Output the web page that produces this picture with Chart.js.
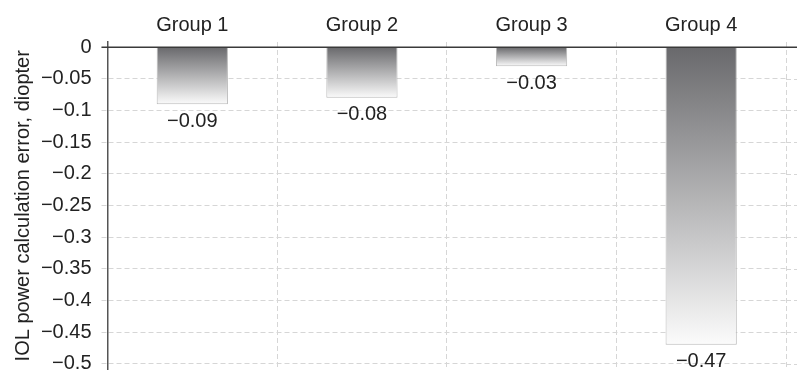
<!DOCTYPE html>
<html>
<head>
<meta charset="utf-8">
<script src="https://cdn.jsdelivr.net/npm/chart.js@4/dist/chart.umd.min.js"></script>
<style>
  html, body { margin: 0; padding: 0; background: #fff; overflow: hidden; }
  #wrap { width: 797px; height: 370px; position: relative; }
</style>
</head>
<body>
<div id="wrap"><canvas id="c"></canvas></div>
<script>
// Mean IOL power calculation error per group (diopters)
const groups = ['Group 1', 'Group 2', 'Group 3', 'Group 4'];
const meanError = [-0.09, -0.08, -0.03, -0.47];
const yAxisTitle = 'IOL power calculation error, diopter';

const FONT = "'Liberation Sans', Arial, Helvetica, sans-serif";
const TEXT = '#222';
const GRID = '#d6d6d6';
const DASH = [5, 3];

const fmt = v => {
  const r = Math.round(v * 100) / 100;
  if (Math.abs(r) < 1e-9) return '0';
  return String(r).replace('-', '\u2212');
};

// Vertical gradient running from the zero line to the end of each bar
function barGradient(ctx) {
  const chart = ctx.chart;
  const y = chart.scales.y;
  if (!chart.chartArea || !y || ctx.raw === undefined) return '#999';
  const y0 = y.getPixelForValue(0);
  const y1 = y.getPixelForValue(ctx.raw);
  if (!isFinite(y0) || !isFinite(y1) || y0 === y1) return '#999';
  const g = chart.ctx.createLinearGradient(0, y0, 0, y1);
  g.addColorStop(0, '#69696c');
  g.addColorStop(1, '#fbfbfb');
  return g;
}

// Zero line, right-hand grid extension and value labels
const decorations = {
  id: 'decorations',
  afterDatasetsDraw(chart) {
    const { ctx, chartArea } = chart;
    const y = chart.scales.y;
    ctx.save();
    // extend the horizontal grid to the right edge
    ctx.strokeStyle = GRID;
    ctx.lineWidth = 1;
    ctx.setLineDash(DASH);
    y.ticks.forEach(t => {
      if (Math.abs(t.value) < 1e-9) return;
      const py = Math.round(y.getPixelForValue(t.value)) + 0.5;
      ctx.beginPath();
      ctx.moveTo(chartArea.right, py);
      ctx.lineTo(chart.width, py);
      ctx.stroke();
    });
    // solid zero line
    ctx.setLineDash([]);
    ctx.strokeStyle = '#3a3a3a';
    ctx.lineWidth = 1.5;
    const zy = y.getPixelForValue(0);
    ctx.beginPath();
    ctx.moveTo(chartArea.left - 6, zy);
    ctx.lineTo(chart.width, zy);
    ctx.stroke();
    // value labels under each bar
    ctx.fillStyle = TEXT;
    ctx.font = '20px ' + FONT;
    ctx.textAlign = 'center';
    ctx.textBaseline = 'top';
    const meta = chart.getDatasetMeta(0);
    meta.data.forEach((el, i) => {
      ctx.fillText(fmt(chart.data.datasets[0].data[i]), el.x, el.y + 7);
    });
    ctx.restore();
  }
};

new Chart(document.getElementById('c'), {
  type: 'bar',
  data: {
    labels: groups,
    datasets: [{
      data: meanError,
      backgroundColor: barGradient,
      borderColor: '#b9b9b9',
      borderWidth: 1,
      barPercentage: 0.42,
      categoryPercentage: 1
    }]
  },
  options: {
    responsive: true,
    maintainAspectRatio: false,
    animation: false,
    layout: { padding: { left: 0, right: 11, top: 0, bottom: 0 } },
    plugins: { legend: { display: false }, tooltip: { enabled: false } },
    scales: {
      x: {
        position: 'top',
        border: { display: false, dash: DASH },
        grid: {
          color: GRID,
          lineWidth: 1,
          drawTicks: false
        },
        ticks: {
          color: TEXT,
          font: { family: FONT, size: 20 },
          padding: 4,
          maxRotation: 0
        },
        afterFit(scale) { scale.height = 41.5; }
      },
      y: {
        min: -0.51,
        max: 0.009,
        border: { display: true, color: '#555', width: 1.5, dash: DASH },
        grid: {
          color: GRID,
          lineWidth: 1,
          tickBorderDash: DASH,
          tickColor: GRID,
          tickLength: 6
        },
        ticks: {
          stepSize: 0.05,
          includeBounds: false,
          color: TEXT,
          font: { family: FONT, size: 20 },
          padding: 10,
          autoSkip: false,
          callback: v => fmt(v)
        },
        title: {
          display: true,
          text: yAxisTitle,
          color: TEXT,
          font: { family: FONT, size: 20 },
          padding: { top: 11, bottom: 0 }
        },
        afterFit(scale) {
          scale.width = 107.5;
          scale.paddingTop = 0;
          scale.paddingBottom = 0;
        }
      }
    }
  },
  plugins: [decorations]
});
</script>
</body>
</html>
